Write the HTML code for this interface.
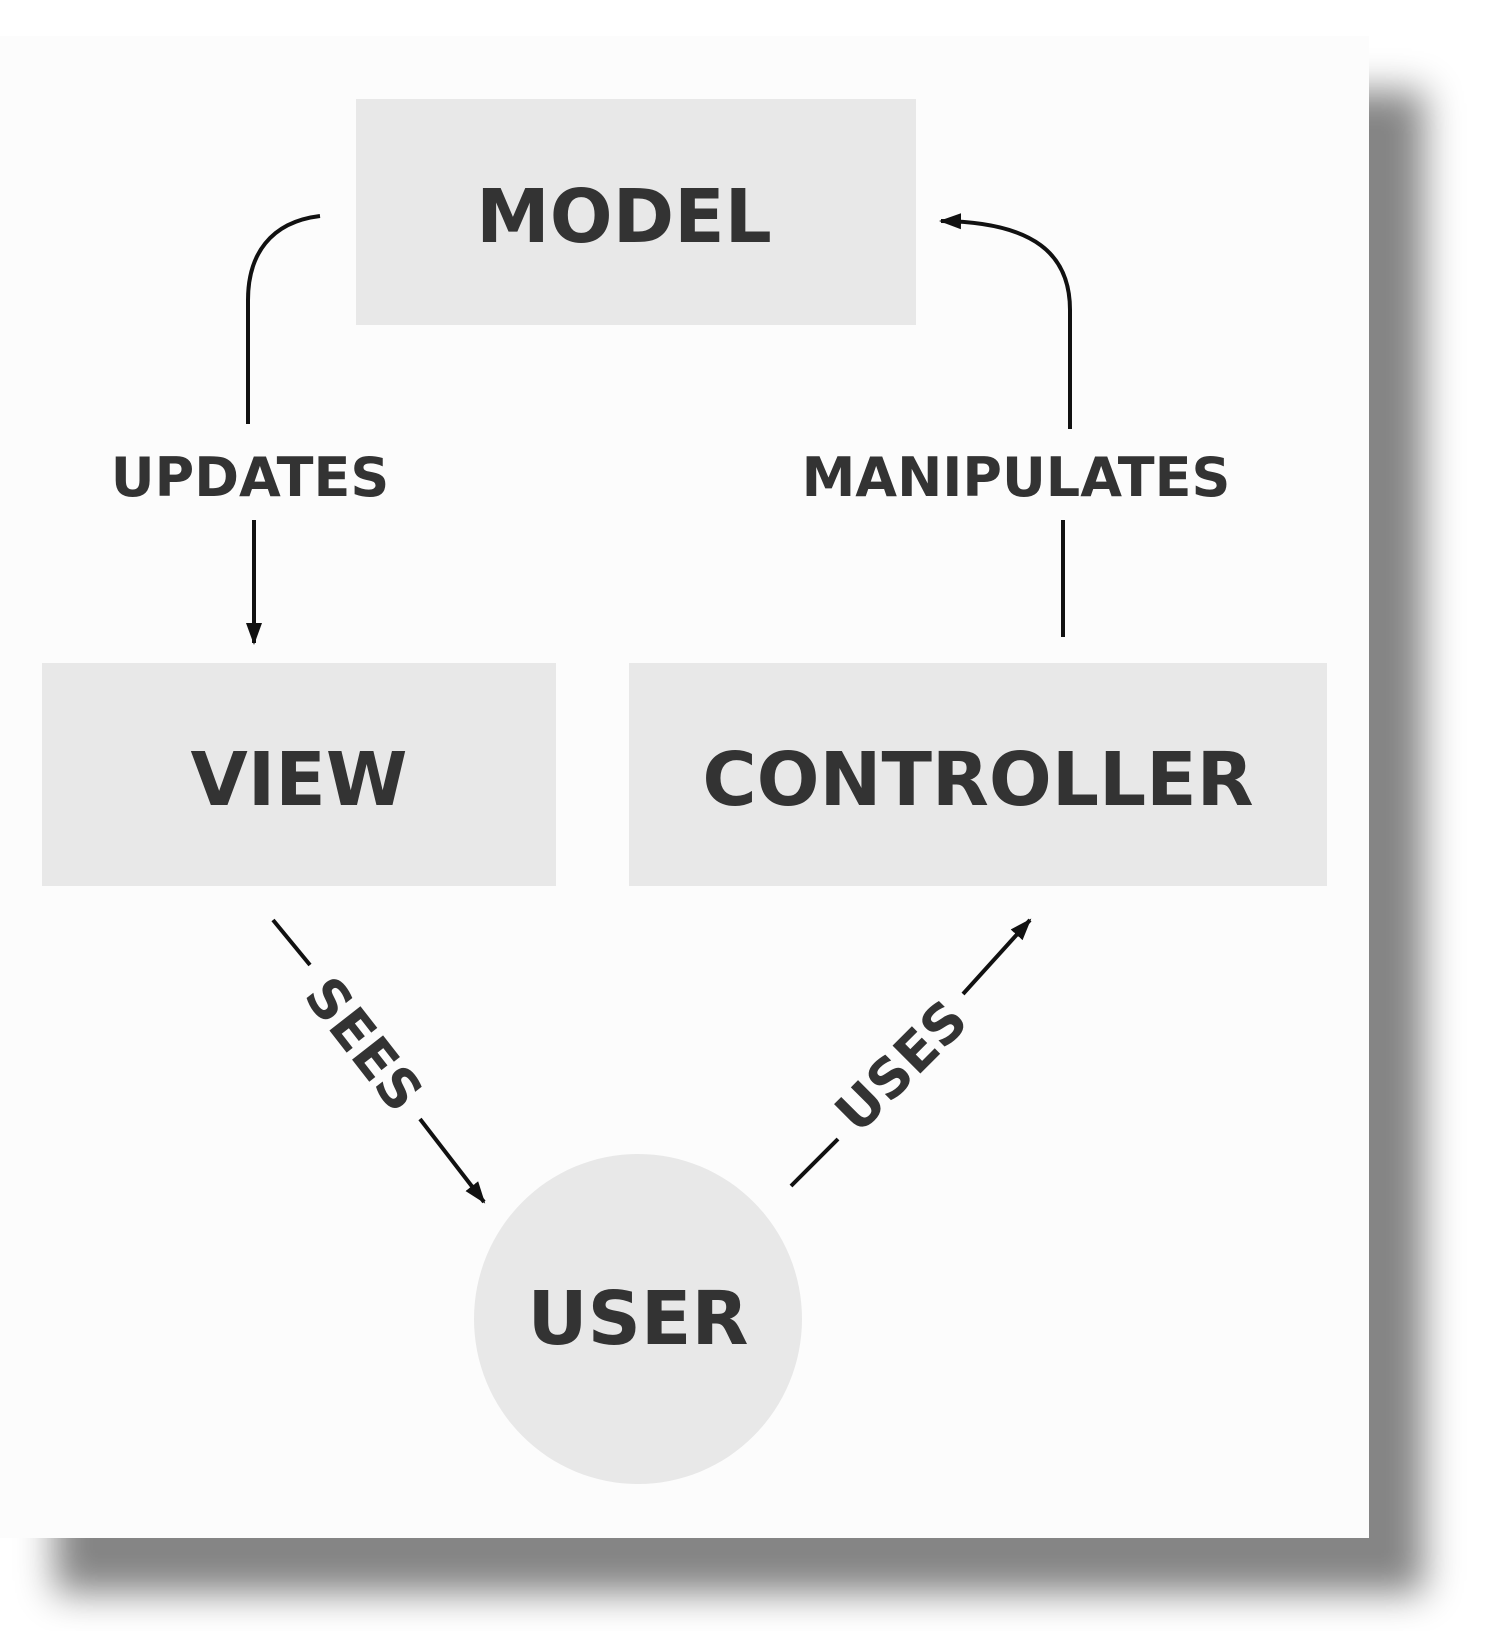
<!DOCTYPE html>
<html><head><style>
html,body{margin:0;padding:0;background:#fff;width:1493px;height:1631px;overflow:hidden}
.panel{position:absolute;left:0;top:36px;width:1369px;height:1502px;background:#fcfcfc;box-shadow:55px 55px 35px #858585}
svg{position:absolute;left:0;top:0}
text{font-family:"DejaVu Sans","Liberation Sans",sans-serif;font-weight:bold;fill:#333}
</style></head><body>
<div class="panel"></div>
<svg width="1493" height="1631" viewBox="0 0 1493 1631">
<defs><marker id="a" markerWidth="10" markerHeight="10" refX="9" refY="5" orient="auto" markerUnits="userSpaceOnUse" viewBox="0 0 10 10"><path d="M0,0 L10,5 L0,10 z" fill="#111"/></marker>
<marker id="b" markerWidth="22" markerHeight="22" refX="20" refY="11" orient="auto" markerUnits="userSpaceOnUse"><path d="M0,3 L22,11 L0,19 z" fill="#111"/></marker></defs>
<rect x="356" y="99" width="560" height="226" fill="#e8e8e8"/>
<rect x="42" y="663" width="514" height="223" fill="#e8e8e8"/>
<rect x="629" y="663" width="698" height="223" fill="#e8e8e8"/>
<ellipse cx="638" cy="1319" rx="164" ry="165" fill="#e8e8e8"/>
<text x="624" y="242" font-size="74" text-anchor="middle">MODEL</text>
<text x="299" y="805" font-size="74" text-anchor="middle">VIEW</text>
<text x="978" y="805" font-size="74" text-anchor="middle">CONTROLLER</text>
<text x="638" y="1344" font-size="74" text-anchor="middle">USER</text>
<text x="250" y="496" font-size="54" text-anchor="middle">UPDATES</text>
<text x="1016" y="496" font-size="54" text-anchor="middle">MANIPULATES</text>
<g stroke="#111" stroke-width="4" fill="none">
<path d="M320,216 C270,222 248,255 248,300 L248,424"/>
<line x1="254" y1="520" x2="254" y2="643" marker-end="url(#b)"/>
<path d="M1070,429 L1070,310 C1070,255 1035,222 941,221" marker-end="url(#b)"/>
<line x1="1063" y1="520" x2="1063" y2="637"/>
<line x1="273" y1="920" x2="310" y2="965"/>
<line x1="420" y1="1119" x2="484" y2="1202" marker-end="url(#b)"/>
<line x1="791" y1="1186" x2="838" y2="1139"/>
<line x1="963" y1="994" x2="1030" y2="920" marker-end="url(#b)"/>
</g>
<text font-size="54" text-anchor="middle" transform="translate(364,1044) rotate(52)" dy="19">SEES</text>
<text font-size="54" text-anchor="middle" transform="translate(901,1066) rotate(-45)" dy="19">USES</text>
</svg>
</body></html>
